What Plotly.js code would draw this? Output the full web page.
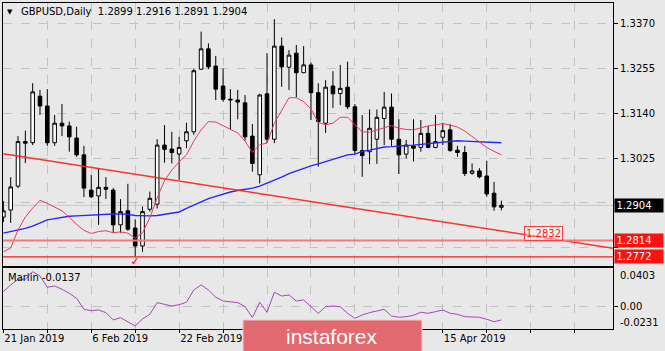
<!DOCTYPE html>
<html><head><meta charset="utf-8">
<script src="https://cdn.plot.ly/plotly-3.0.1.min.js"></script>
<style>html,body{margin:0;padding:0;background:#e8e8e8;}#chart{width:665px;height:351px;}</style>
</head><body><div id="chart"></div>
<script>
const dates = ['2019-01-21','2019-01-22','2019-01-23','2019-01-24','2019-01-25','2019-01-28','2019-01-29','2019-01-30','2019-01-31',
'2019-02-01','2019-02-04','2019-02-05','2019-02-06','2019-02-07','2019-02-08','2019-02-11','2019-02-12','2019-02-13','2019-02-14','2019-02-15',
'2019-02-18','2019-02-19','2019-02-20','2019-02-21','2019-02-22','2019-02-25','2019-02-26','2019-02-27','2019-02-28',
'2019-03-01','2019-03-04','2019-03-05','2019-03-06','2019-03-07','2019-03-08','2019-03-11','2019-03-12','2019-03-13','2019-03-14','2019-03-15',
'2019-03-18','2019-03-19','2019-03-20','2019-03-21','2019-03-22','2019-03-25','2019-03-26','2019-03-27','2019-03-28','2019-03-29',
'2019-04-01','2019-04-02','2019-04-03','2019-04-04','2019-04-05','2019-04-08','2019-04-09','2019-04-10','2019-04-11','2019-04-12',
'2019-04-15','2019-04-16','2019-04-17','2019-04-18','2019-04-19','2019-04-22','2019-04-23','2019-04-24','2019-04-25'];

const open = [1.2874,1.2892,1.2953,1.3067,1.3064,1.3183,1.3158,1.3064,1.3114,1.3107,
1.3076,1.3033,1.2943,1.2928,1.2950,1.2943,1.2854,1.2890,1.2846,1.2800,
1.2894,1.2907,1.3058,1.3048,1.3035,1.3069,1.3092,1.3252,1.3304,1.3260,
1.3209,1.3173,1.3173,1.3166,1.3081,1.2982,1.3189,1.3073,1.3311,1.3257,
1.3293,1.3243,1.3263,1.3192,1.3114,1.3209,1.3190,1.3206,1.3156,1.3044,
1.3041,1.3073,1.3126,1.3155,1.3073,1.3035,1.3056,1.3052,1.3088,1.3052,
1.3078,1.3097,1.3045,1.3039,1.2986,1.2992,1.2979,1.2935,1.2899];
const high = [1.2915,1.2976,1.3081,1.3095,1.3216,1.3199,1.3201,1.3135,1.3163,1.3118,
1.3105,1.3056,1.2982,1.2997,1.2976,1.2948,1.2920,1.2959,1.2868,1.2901,
1.2939,1.3073,1.3109,1.3092,1.3079,1.3115,1.3254,1.3348,1.3318,1.3286,
1.3254,1.3201,1.3199,1.3186,1.3112,1.3189,1.3293,1.3380,1.3333,1.3301,
1.3314,1.3311,1.3269,1.3216,1.3224,1.3247,1.3263,1.3271,1.3163,1.3135,
1.3149,1.3149,1.3194,1.3190,1.3124,1.3071,1.3124,1.3122,1.3107,1.3135,
1.3115,1.3112,1.3056,1.3056,1.3011,1.2999,1.3018,1.2964,1.2916];
const low = [1.2861,1.2859,1.2948,1.3012,1.3058,1.3135,1.3056,1.3056,1.3081,1.3041,
1.3028,1.2925,1.2923,1.2854,1.2920,1.2834,1.2834,1.2839,1.2773,1.2785,
1.2888,1.2896,1.3013,1.3011,1.2969,1.3050,1.3084,1.3250,1.3252,1.3173,
1.3169,1.3097,1.3124,1.3069,1.2990,1.2960,1.3063,1.3063,1.3207,1.3199,
1.3180,1.3242,1.3122,1.3003,1.3089,1.3153,1.3160,1.3150,1.3035,1.2977,
1.3009,1.3010,1.3058,1.3056,1.2984,1.3024,1.3016,1.3041,1.3050,1.3050,
1.3058,1.3041,1.3028,1.2979,1.2982,1.2973,1.2926,1.2890,1.2891];
const close = [1.2890,1.2951,1.3067,1.3063,1.3194,1.3158,1.3064,1.3114,1.3107,1.3079,
1.3033,1.2948,1.2926,1.2950,1.2945,1.2854,1.2888,1.2843,1.2800,1.2888,
1.2922,1.3058,1.3047,1.3039,1.3052,1.3092,1.3248,1.3304,1.3258,1.3201,
1.3175,1.3175,1.3168,1.3079,1.3011,1.3186,1.3073,1.3311,1.3258,1.3288,
1.3243,1.3263,1.3192,1.3118,1.3206,1.3189,1.3203,1.3156,1.3044,1.3031,
1.3101,1.3129,1.3155,1.3073,1.3033,1.3058,1.3050,1.3088,1.3052,1.3067,
1.3095,1.3044,1.3039,1.2985,1.2992,1.2977,1.2933,1.2900,1.2904];

const maFast = [1.2785,1.2795,1.2841,1.2874,1.2897,1.2917,1.2909,1.2899,1.2890,1.2874,
1.2855,1.2840,1.2832,1.2837,1.2839,1.2834,1.2836,1.2833,1.2820,1.2834,
1.2872,1.2923,1.2967,1.2994,1.3015,1.3033,1.3068,1.3097,1.3118,1.3117,
1.3108,1.3099,1.3089,1.3068,1.3039,1.3059,1.3063,1.3114,1.3145,1.3179,
1.3179,1.3169,1.3150,1.3116,1.3110,1.3114,1.3129,1.3129,1.3110,1.3092,
1.3091,1.3097,1.3103,1.3108,1.3101,1.3098,1.3097,1.3102,1.3107,1.3110,
1.3113,1.3109,1.3104,1.3094,1.3080,1.3066,1.3052,1.3042,1.3033];
const maSlow = [1.2833,1.2837,1.2840,1.2845,1.2851,1.2860,1.2867,1.2870,1.2873,1.2876,
1.2877,1.2878,1.2879,1.2881,1.2882,1.2882,1.2882,1.2881,1.2878,1.2877,
1.2877,1.2878,1.2881,1.2883,1.2887,1.2896,1.2905,1.2913,1.2921,1.2927,
1.2933,1.2938,1.2942,1.2945,1.2948,1.2953,1.2960,1.2969,1.2976,1.2985,
1.2992,1.2999,1.3005,1.3010,1.3016,1.3022,1.3028,1.3033,1.3035,1.3042,
1.3045,1.3049,1.3053,1.3054,1.3056,1.3057,1.3058,1.3060,1.3062,1.3064,
1.3066,1.3067,1.3069,1.3068,1.3067,1.3066,1.3065,1.3065,1.3064];
const marlin = [0.0157,0.0227,0.0286,0.0286,0.0365,0.0320,0.0203,0.0216,0.0182,0.0140,
0.0088,-0.0026,-0.0041,-0.0033,-0.0061,-0.0137,-0.0113,-0.0155,-0.0200,-0.0127,
-0.0078,0.0043,0.0029,0.0008,0.0022,0.0047,0.0175,0.0227,0.0175,0.0099,
0.0060,0.0053,0.0043,0.0001,-0.0113,0.0047,-0.0057,0.0151,0.0112,0.0123,
0.0060,0.0071,0.0001,-0.0068,0.0001,0.0008,0.0001,-0.0068,-0.0120,-0.0085,
-0.0061,-0.0041,-0.0026,-0.0096,-0.0109,-0.0103,-0.0088,-0.0057,-0.0068,-0.0051,
-0.0033,-0.0068,-0.0078,-0.0103,-0.0103,-0.0109,-0.0130,-0.0155,-0.0137];

const gridIdx = [0,6,12,18,24,30,36,42,48,54,60,66,72,78];
// labels that stay visible (the ones at bars 36 and 48 sit under the watermark in the reference)
const labelIdx = [0,12,24,60];
const dateLabels = ['21 Jan 2019','6 Feb 2019','22 Feb 2019','15 Apr 2019'];
const priceTicks = [1.3370,1.3255,1.3140,1.3025,1.2910,1.2795];
const hiddenPriceTicks = [1.2910,1.2795]; // covered by the price boxes in the reference
const subTicks = [0.0403,0.00,-0.0231];
const levels = [1.2814,1.2772];
const trendIdx = [0,83.24];
const trendPrice = [1.30357,1.27942];
const trendLabelIdx = [71.1];
const trendLabelPrice = [1.2832];
const checkIdx = [18];
const checkPrice = [1.2759];
const symbolText = 'GBPUSD,Daily';
const indicatorName = 'Marlin';

// ---- geometry helpers (pixel -> paper) ----
const W=665,H=351,ML=3,MR=52,MT=3,MB=22;
const PW=W-ML-MR, PH=H-MT-MB;
const px=x=>(x-ML)/PW, py=y=>(H-MB-y)/PH;
const f4=v=>v.toFixed(4);
const FONT='DejaVu Sans';
const last=close.length-1;

const traces=[
 {type:'candlestick',x:dates,open:open,high:high,low:low,close:close,xaxis:'x',yaxis:'y',
  increasing:{line:{color:'#000',width:1},fillcolor:'#ffffff'},
  decreasing:{line:{color:'#000',width:1},fillcolor:'#000000'},
  whiskerwidth:0,hoverinfo:'skip',showlegend:false},
 {type:'scatter',mode:'lines',x:dates,y:maSlow,xaxis:'x',yaxis:'y',line:{color:'#2626ff',width:1.4},hoverinfo:'skip',showlegend:false},
 {type:'scatter',mode:'lines',x:dates,y:maFast,xaxis:'x',yaxis:'y',line:{color:'#e63c5e',width:1},hoverinfo:'skip',showlegend:false},
 {type:'scatter',mode:'text',x:checkIdx.map(i=>dates[i]),y:checkPrice,text:checkIdx.map(()=>'✓'),textfont:{color:'#ff0000',size:11,family:FONT},xaxis:'x',yaxis:'y',cliponaxis:false,hoverinfo:'skip',showlegend:false},
 {type:'scatter',mode:'lines',x:dates,y:marlin,xaxis:'x2',yaxis:'y2',line:{color:'#a646bb',width:1},hoverinfo:'skip',showlegend:false}
];

const gridCol='#c3c3c3';
const tickText=gridIdx.map(i=>{const k=labelIdx.indexOf(i);return k>=0?dateLabels[k]:'';});
const priceText=priceTicks.map(v=>hiddenPriceTicks.includes(v)?'':f4(v));
const layout={
 width:W,height:H,margin:{l:ML,r:MR,t:MT,b:MB,pad:0},
 paper_bgcolor:'#e8e8e8',plot_bgcolor:'#e8e8e8',showlegend:false,
 font:{family:FONT,size:10,color:'#000'},
 xaxis:{type:'category',domain:[0,1],anchor:'y',range:[-0.05,83.24],tickmode:'array',tickvals:gridIdx,
   showticklabels:false,ticks:'',showgrid:true,gridcolor:gridCol,griddash:'dash',gridwidth:1,
   showline:true,mirror:true,linecolor:'#000',linewidth:1,zeroline:false,rangeslider:{visible:false},fixedrange:true},
 xaxis2:{type:'category',matches:'x',domain:[0,1],anchor:'y2',tickmode:'array',tickvals:gridIdx,ticktext:tickText,
   ticks:'outside',ticklen:3,tickcolor:'#000',ticklabelposition:'outside right',
   tickfont:{family:FONT,size:10,color:'#000'},showgrid:true,gridcolor:gridCol,griddash:'dash',gridwidth:1,
   showline:true,mirror:true,linecolor:'#000',linewidth:1,zeroline:false,fixedrange:true},
 yaxis:{domain:[py(265.5),1],anchor:'x',side:'right',range:[1.27502,1.34212],tickmode:'array',tickvals:priceTicks,ticktext:priceText,
   ticks:'outside',ticklen:4,tickcolor:'#000',tickfont:{family:FONT,size:10,color:'#000'},
   showgrid:true,gridcolor:gridCol,griddash:'dash',gridwidth:1,showline:true,mirror:true,linecolor:'#000',linewidth:1,zeroline:false,fixedrange:true},
 yaxis2:{domain:[0,py(268)],anchor:'x2',side:'right',range:[subTicks[2],subTicks[0]],tickmode:'array',tickvals:[subTicks[1]],ticktext:['0.00'],
   ticks:'outside',ticklen:4,tickcolor:'#000',tickfont:{family:FONT,size:10,color:'#000'},
   showgrid:true,gridcolor:gridCol,griddash:'dash',gridwidth:1,showline:true,mirror:true,linecolor:'#000',linewidth:1,zeroline:false,fixedrange:true},
 shapes:[
  {type:'line',xref:'paper',yref:'y',x0:0,x1:1,y0:close[last],y1:close[last],line:{color:'#c8c8c8',width:1},layer:'between'},
  {type:'line',xref:'x',yref:'y',x0:trendIdx[0],y0:trendPrice[0],x1:trendIdx[1],y1:trendPrice[1],line:{color:'rgba(255,30,30,0.9)',width:1.5},layer:'above'},
  {type:'line',xref:'paper',yref:'y',x0:0,x1:1,y0:levels[0],y1:levels[0],line:{color:'#f27a7a',width:2},layer:'above'},
  {type:'line',xref:'paper',yref:'y',x0:0,x1:1,y0:levels[1],y1:levels[1],line:{color:'#ff1a1a',width:1.2},layer:'above'},
  {type:'rect',xref:'paper',yref:'paper',x0:px(243),x1:px(422),y0:py(352),y1:py(320),fillcolor:'#e26a6e',line:{color:'#f6c9c9',width:1},layer:'above'}
 ],
 annotations:[
  {xref:'paper',yref:'paper',x:px(10),y:py(12),text:'▼',showarrow:false,font:{family:FONT,size:7,color:'#000'},xanchor:'center',yanchor:'middle'},
  {xref:'paper',yref:'paper',x:px(18.5),y:py(11.5),text:symbolText+'\u00a0\u00a0'+[open[last],high[last],low[last],close[last]].map(f4).join(' '),showarrow:false,font:{family:FONT,size:10,color:'#000'},xanchor:'left',yanchor:'middle'},
  {xref:'paper',yref:'paper',x:px(6),y:py(277),text:indicatorName+' '+f4(marlin[last]),showarrow:false,font:{family:FONT,size:10,color:'#000'},xanchor:'left',yanchor:'middle'},
  {xref:'paper',yref:'paper',x:px(618),y:py(275),text:f4(subTicks[0]),showarrow:false,font:{family:FONT,size:10,color:'#000'},xanchor:'left',yanchor:'middle'},
  {xref:'paper',yref:'paper',x:px(618),y:py(322.5),text:f4(subTicks[2]),showarrow:false,font:{family:FONT,size:10,color:'#000'},xanchor:'left',yanchor:'middle'},
  {xref:'paper',yref:'y',x:px(614),y:close[last],text:f4(close[last]),showarrow:false,font:{family:FONT,size:10,color:'#fff'},bgcolor:'#000',xanchor:'left',yanchor:'middle',width:45,height:10,align:'left',borderpad:1.5},
  {xref:'paper',yref:'y',x:px(614),y:levels[0],text:f4(levels[0]),showarrow:false,font:{family:FONT,size:10,color:'#fff'},bgcolor:'#ff1010',xanchor:'left',yanchor:'middle',width:45,height:10,align:'left',borderpad:1.5},
  {xref:'paper',yref:'y',x:px(614),y:levels[1],text:f4(levels[1]),showarrow:false,font:{family:FONT,size:10,color:'#fff'},bgcolor:'#ff1010',xanchor:'left',yanchor:'middle',width:45,height:10,align:'left',borderpad:1.5},
  {xref:'x',yref:'y',x:trendLabelIdx[0],y:trendLabelPrice[0],text:f4(trendLabelPrice[0]),showarrow:false,font:{family:FONT,size:10,color:'#ff2020'},bgcolor:'rgba(255,255,255,0.35)',bordercolor:'#ff4040',borderwidth:1,borderpad:1,xanchor:'left',yanchor:'middle'},
  {xref:'paper',yref:'paper',x:px(332),y:py(336),text:'instaforex',showarrow:false,font:{family:'Liberation Sans',size:21,color:'#ffffff'},xanchor:'center',yanchor:'middle'}
 ]
};
Plotly.newPlot('chart',traces,layout,{displayModeBar:false,staticPlot:true});
</script></body></html>
